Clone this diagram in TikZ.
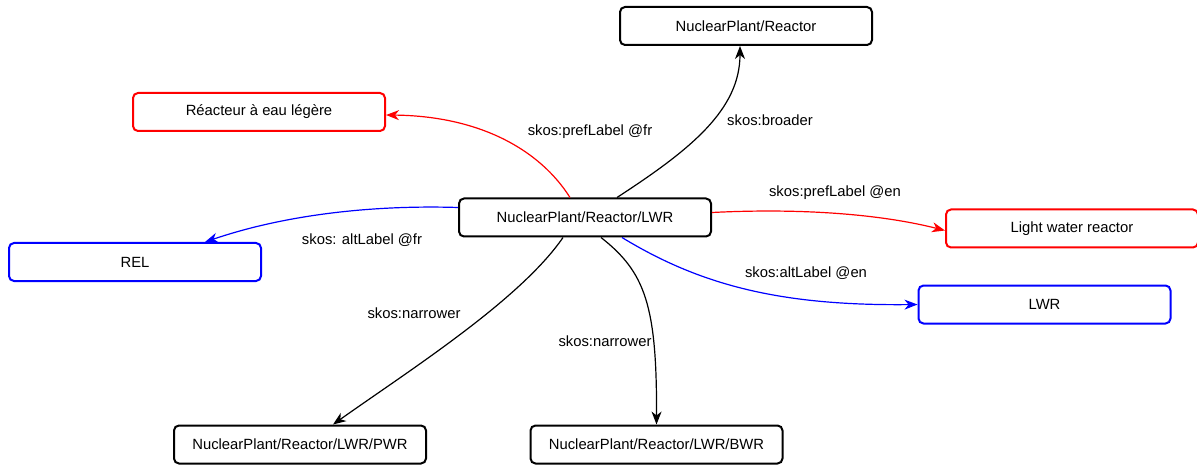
\documentclass[tikz,border=0pt]{standalone}
\usepackage{fontspec}
\setmainfont{Liberation Sans}
\usetikzlibrary{arrows.meta,calc}
\definecolor{myred}{RGB}{255,0,0}
\definecolor{myblue}{RGB}{0,0,255}
\begin{document}
\begin{tikzpicture}[x={(1pt,0)},y={(0,-1pt)},
  every node/.style={font=\fontsize{14.8}{17}\selectfont},
  box/.style={draw,line width=2pt,rounded corners=5pt,minimum width=252pt,minimum height=38pt,inner sep=0pt,fill=white},
  redbox/.style={box,draw=myred},
  bluebox/.style={box,draw=myblue},
  conn/.style={line width=1.2pt,-{Stealth[length=13pt,width=10pt,inset=4pt]}},
  lbl/.style={inner sep=1pt}]
\useasboundingbox (0,0) rectangle (1197,465);
\node[box] (c) at (585,217.5) {NuclearPlant/Reactor/LWR};
\node[box] (t) at (746,26) {NuclearPlant/Reactor};
\node[redbox] (fr) at (259,112) {Réacteur à eau légère};
\node[redbox] (en) at (1072,228.5) {Light water reactor};
\node[bluebox] (rel) at (135,262) {REL};
\node[bluebox] (lwr) at (1044.5,304.5) {LWR};
\node[box] (pwr) at (300,444.5) {NuclearPlant/Reactor/LWR/PWR};
\node[box] (bwr) at (656.5,444.5) {NuclearPlant/Reactor/LWR/BWR};

\draw[conn] ($(c.north)+(32,0)$) .. controls (690,150) and (740,110) .. ($(t.south)+(-6,0)$);
\draw[conn,myred] ($(c.north)+(-15,0)$) .. controls (540,150) and (480,116) .. ($(fr.east)+(0,3)$);
\draw[conn,myred] ($(c.east)+(0,-5)$) .. controls (800,208) and (880,214) .. ($(en.west)+(0,2)$);
\draw[conn,myblue] ($(c.west)+(0,-10)$) .. controls (380,205) and (290,213) .. ($(rel.north)+(70,0)$);
\draw[conn,myblue] ($(c.south)+(37,0)$) .. controls (700,285) and (780,306) .. ($(lwr.west)+(0,0)$);
\draw[conn] ($(c.south)+(-22,0)$) .. controls (520,300) and (410,370) .. ($(pwr.north)+(33,0)$);
\draw[conn] ($(c.south)+(16,0)$) .. controls (645,272) and (657,305) .. ($(bwr.north)+(0,0)$);

\node[lbl] (l1) at (770,120) {skos:broader};
\node[lbl] (l2) at (590,132) {skos:prefLabel @fr};
\node[lbl] (l3) at (835,193) {skos:prefLabel @en};
\node[lbl] (l4) at (362,240) {skos: altLabel @fr};
\node[lbl] (l5) at (806,273) {skos:altLabel @en};
\node[lbl] (l6) at (414,313) {skos:narrower};
\node[lbl] (l7) at (605,341) {skos:narrower};
\end{tikzpicture}
\end{document}
